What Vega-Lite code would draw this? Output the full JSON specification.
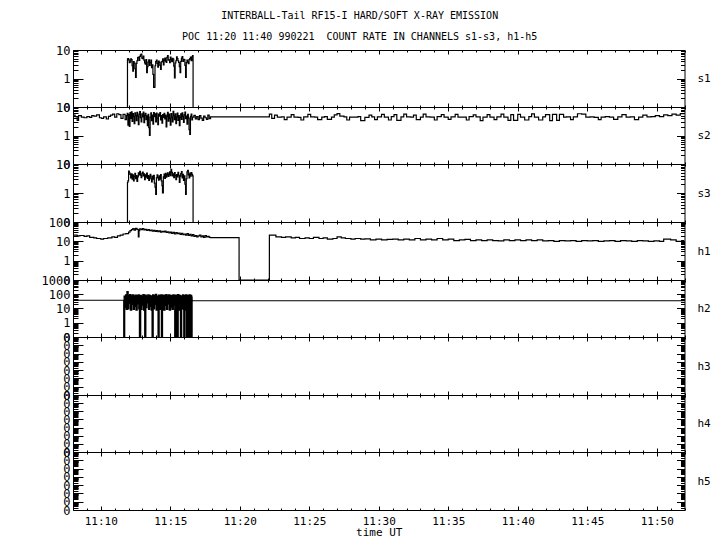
{
  "$schema": "https://vega.github.io/schema/vega-lite/v6.json",
  "background": "white",
  "padding": {"top": 10, "left": 40, "right": 5, "bottom": 5},
  "title": {
    "text": ["INTERBALL-Tail RF15-I HARD/SOFT X-RAY EMISSION", "POC 11:20 11:40 990221\u00a0 COUNT RATE IN CHANNELS s1-s3, h1-h5"],
    "font": "DejaVu Sans Mono", "fontSize": 10, "fontWeight": "normal", "lineHeight": 21,
    "anchor": "middle", "offset": 2, "dx": -16, "color": "black"
  },
  "config": {
    "view": {"stroke": "black", "strokeWidth": 1},
    "axis": {
      "domain": false, "tickColor": "black", "labelColor": "black", "titleColor": "black",
      "grid": false, "labelFont": "DejaVu Sans Mono", "titleFont": "DejaVu Sans Mono", "titleFontWeight": "normal",
      "labelOverlap": false, "labelFlush": false, "labelBound": false, "tickWidth": 1
    },
    "axisBottom": {"offset": -4, "tickSize": 4, "tickDash": {"condition": {"test": "datum.value % 5 === 0", "value": [4, 0]}, "value": [0, 2, 2, 0]}},
    "axisTop": {"offset": -4, "tickSize": 4, "tickDash": {"condition": {"test": "datum.value % 5 === 0", "value": [4, 0]}, "value": [0, 2, 2, 0]}},
    "axisLeft": {"offset": -10, "tickSize": 10, "labelPadding": 3, "labelFontSize": 12, "tickDash": {"condition": {"test": "abs(log(datum.value)/LN10 - round(log(datum.value)/LN10)) < 0.001", "value": [10, 0]}, "value": [0, 5, 5, 0]}},
    "axisRight": {"offset": -8, "tickSize": 8, "titleAngle": 0, "titleAlign": "left", "titleBaseline": "middle", "titleFontSize": 11, "titlePadding": 12, "tickDash": {"condition": {"test": "abs(log(datum.value)/LN10 - round(log(datum.value)/LN10)) < 0.001", "value": [8, 0]}, "value": [0, 4, 4, 0]}}
  },
  "bounds": "flush",
  "spacing": 0,
  "datasets": {
    "s1": [
      {"t":11.91,"v":0.1},{"t":11.92,"v":4.8},{"t":11.95,"v":5.0},{"t":12.0,"v":4.5},{"t":12.05,"v":3.6},{"t":12.1,"v":3.8},{"t":12.15,"v":4.9},{"t":12.2,"v":4.6},{"t":12.25,"v":2.8},{"t":12.3,"v":1.8},{"t":12.35,"v":3.9},{"t":12.4,"v":3.5},{"t":12.45,"v":2.2},{"t":12.5,"v":1.1},{"t":12.55,"v":3.4},{"t":12.6,"v":4.2},{"t":12.65,"v":5.4},{"t":12.7,"v":5.6},{"t":12.75,"v":4.3},{"t":12.8,"v":6.0},{"t":12.85,"v":6.8},{"t":12.9,"v":7.2},{"t":12.95,"v":5.2},{"t":13.0,"v":5.0},{"t":13.05,"v":6.1},{"t":13.1,"v":4.4},{"t":13.15,"v":3.5},{"t":13.2,"v":3.2},{"t":13.25,"v":4.6},{"t":13.3,"v":1.6},{"t":13.35,"v":2.6},{"t":13.4,"v":3.8},{"t":13.45,"v":4.5},{"t":13.5,"v":2.9},{"t":13.55,"v":3.6},{"t":13.6,"v":4.4},{"t":13.65,"v":2.4},{"t":13.7,"v":3.0},{"t":13.75,"v":1.4},{"t":13.8,"v":0.49},{"t":13.85,"v":0.5},{"t":13.9,"v":2.8},{"t":13.95,"v":3.9},{"t":14.0,"v":4.4},{"t":14.05,"v":3.4},{"t":14.1,"v":2.5},{"t":14.15,"v":4.1},{"t":14.2,"v":3.7},{"t":14.25,"v":2.9},{"t":14.3,"v":2.1},{"t":14.35,"v":3.8},{"t":14.4,"v":4.0},{"t":14.45,"v":4.9},{"t":14.5,"v":3.0},{"t":14.55,"v":4.3},{"t":14.6,"v":5.2},{"t":14.65,"v":4.1},{"t":14.7,"v":3.7},{"t":14.75,"v":5.5},{"t":14.8,"v":6.3},{"t":14.85,"v":4.4},{"t":14.9,"v":4.5},{"t":14.95,"v":3.6},{"t":15.0,"v":5.6},{"t":15.05,"v":4.8},{"t":15.1,"v":3.9},{"t":15.15,"v":5.1},{"t":15.2,"v":4.8},{"t":15.25,"v":2.7},{"t":15.3,"v":1.06},{"t":15.35,"v":3.5},{"t":15.4,"v":4.2},{"t":15.45,"v":5.7},{"t":15.5,"v":5.0},{"t":15.55,"v":4.2},{"t":15.6,"v":3.7},{"t":15.65,"v":2.6},{"t":15.7,"v":1.6},{"t":15.75,"v":4.0},{"t":15.8,"v":5.2},{"t":15.85,"v":5.9},{"t":15.9,"v":4.0},{"t":15.95,"v":4.7},{"t":16.0,"v":4.6},{"t":16.05,"v":2.9},{"t":16.1,"v":1.1},{"t":16.15,"v":3.6},{"t":16.2,"v":4.4},{"t":16.25,"v":3.8},{"t":16.3,"v":3.3},{"t":16.35,"v":4.6},{"t":16.4,"v":5.0},{"t":16.45,"v":5.6},{"t":16.5,"v":4.2},{"t":16.55,"v":5.8},{"t":16.6,"v":6.3},{"t":16.64,"v":0.1}
    ],
    "s2": [
      {"t":8.0,"v":5.2},{"t":8.15,"v":4.6},{"t":8.3,"v":3.4},{"t":8.4,"v":5.0},{"t":8.6,"v":4.4},{"t":8.8,"v":4.2},{"t":9.0,"v":4.6},{"t":9.2,"v":4.3},{"t":9.35,"v":5.0},{"t":9.5,"v":4.8},{"t":9.7,"v":5.3},{"t":9.9,"v":4.2},{"t":10.05,"v":4.0},{"t":10.2,"v":4.5},{"t":10.4,"v":3.8},{"t":10.55,"v":4.7},{"t":10.7,"v":5.2},{"t":10.85,"v":5.6},{"t":11.0,"v":4.4},{"t":11.15,"v":5.8},{"t":11.3,"v":5.4},{"t":11.45,"v":4.0},{"t":11.6,"v":5.5},{"t":11.75,"v":3.6},{"t":11.85,"v":5.0},
      {"t":11.9,"v":6.0},{"t":11.95,"v":2.3},{"t":12.0,"v":5.5},{"t":12.05,"v":2.1},{"t":12.1,"v":6.3},{"t":12.15,"v":4.0},{"t":12.2,"v":6.8},{"t":12.25,"v":3.1},{"t":12.3,"v":5.9},{"t":12.35,"v":4.6},{"t":12.4,"v":2.6},{"t":12.45,"v":6.2},{"t":12.5,"v":5.0},{"t":12.55,"v":3.3},{"t":12.6,"v":6.5},{"t":12.65,"v":4.8},{"t":12.7,"v":2.4},{"t":12.75,"v":5.6},{"t":12.8,"v":6.9},{"t":12.85,"v":4.2},{"t":12.9,"v":3.0},{"t":12.95,"v":5.8},{"t":13.0,"v":4.5},{"t":13.05,"v":6.6},{"t":13.1,"v":2.8},{"t":13.15,"v":5.1},{"t":13.2,"v":6.0},{"t":13.25,"v":3.6},{"t":13.3,"v":4.9},{"t":13.35,"v":2.2},{"t":13.4,"v":5.5},{"t":13.45,"v":1.9},{"t":13.5,"v":1.0},{"t":13.55,"v":4.4},{"t":13.6,"v":6.2},{"t":13.65,"v":3.3},{"t":13.7,"v":5.2},{"t":13.75,"v":2.5},{"t":13.8,"v":6.4},{"t":13.85,"v":4.6},{"t":13.9,"v":5.8},{"t":13.95,"v":3.0},{"t":14.0,"v":6.1},{"t":14.05,"v":4.1},{"t":14.1,"v":2.4},{"t":14.15,"v":5.6},{"t":14.2,"v":4.8},{"t":14.25,"v":6.3},{"t":14.3,"v":3.5},{"t":14.35,"v":5.0},{"t":14.4,"v":2.7},{"t":14.45,"v":5.4},{"t":14.5,"v":4.3},{"t":14.55,"v":6.0},{"t":14.6,"v":3.8},{"t":14.65,"v":5.2},{"t":14.7,"v":2.0},{"t":14.75,"v":4.7},{"t":14.8,"v":6.5},{"t":14.85,"v":3.2},{"t":14.9,"v":5.6},{"t":14.95,"v":4.0},{"t":15.0,"v":2.3},{"t":15.05,"v":5.9},{"t":15.1,"v":4.4},{"t":15.15,"v":3.0},{"t":15.2,"v":7.0},{"t":15.25,"v":4.9},{"t":15.3,"v":3.6},{"t":15.35,"v":5.7},{"t":15.4,"v":2.6},{"t":15.45,"v":4.5},{"t":15.5,"v":6.1},{"t":15.55,"v":3.4},{"t":15.6,"v":5.0},{"t":15.65,"v":2.2},{"t":15.7,"v":4.2},{"t":15.75,"v":5.8},{"t":15.8,"v":3.7},{"t":15.85,"v":6.2},{"t":15.9,"v":4.6},{"t":15.95,"v":2.9},{"t":16.0,"v":5.3},{"t":16.05,"v":6.6},{"t":16.1,"v":3.9},{"t":16.15,"v":4.8},{"t":16.2,"v":2.5},{"t":16.25,"v":5.5},{"t":16.3,"v":4.1},{"t":16.35,"v":1.6},{"t":16.4,"v":1.1},{"t":16.45,"v":4.7},{"t":16.5,"v":5.6},{"t":16.55,"v":3.5},{"t":16.6,"v":4.4},{"t":16.7,"v":5.1},{"t":16.8,"v":3.8},{"t":16.9,"v":4.6},{"t":17.0,"v":3.6},{"t":17.1,"v":5.0},{"t":17.2,"v":4.1},{"t":17.3,"v":3.4},{"t":17.4,"v":4.8},{"t":17.5,"v":4.2},{"t":17.6,"v":3.7},{"t":17.7,"v":5.2},{"t":17.8,"v":3.9},{"t":17.9,"v":4.5},{"t":17.98,"v":4.5},
      {"t":22.13,"v":5.6},{"t":22.3,"v":4.0},{"t":22.5,"v":5.2},{"t":22.7,"v":4.4},{"t":23.0,"v":4.5},{"t":23.2,"v":3.6},{"t":23.4,"v":4.4},{"t":23.7,"v":5.4},{"t":23.9,"v":4.4},{"t":24.2,"v":4.3},{"t":24.4,"v":3.5},{"t":24.6,"v":4.5},{"t":24.9,"v":5.5},{"t":25.1,"v":4.5},{"t":25.4,"v":4.4},{"t":25.6,"v":3.6},{"t":25.9,"v":4.4},{"t":26.1,"v":4.6},{"t":26.3,"v":3.7},{"t":26.6,"v":4.4},{"t":26.8,"v":5.3},{"t":27.0,"v":5.9},{"t":27.2,"v":4.8},{"t":27.5,"v":4.5},{"t":27.7,"v":3.5},{"t":27.9,"v":4.4},{"t":28.2,"v":4.4},{"t":28.5,"v":4.6},{"t":28.7,"v":3.3},{"t":29.0,"v":4.3},{"t":29.3,"v":5.2},{"t":29.5,"v":4.5},{"t":29.7,"v":3.6},{"t":29.9,"v":4.5},{"t":30.2,"v":5.5},{"t":30.4,"v":4.4},{"t":30.7,"v":3.5},{"t":30.9,"v":4.6},{"t":31.1,"v":5.4},{"t":31.3,"v":3.4},{"t":31.6,"v":4.5},{"t":31.8,"v":5.6},{"t":32.0,"v":4.5},{"t":32.3,"v":4.4},{"t":32.5,"v":5.2},{"t":32.7,"v":3.6},{"t":33.0,"v":4.4},{"t":33.2,"v":5.6},{"t":33.4,"v":4.5},{"t":33.7,"v":4.4},{"t":34.0,"v":3.5},{"t":34.2,"v":4.6},{"t":34.5,"v":5.4},{"t":34.7,"v":4.4},{"t":35.0,"v":3.7},{"t":35.2,"v":4.5},{"t":35.5,"v":5.5},{"t":35.7,"v":4.4},{"t":36.0,"v":4.4},{"t":36.3,"v":3.5},{"t":36.5,"v":4.6},{"t":36.8,"v":5.3},{"t":37.0,"v":4.5},{"t":37.3,"v":3.3},{"t":37.5,"v":4.4},{"t":37.8,"v":5.4},{"t":38.0,"v":4.4},{"t":38.3,"v":3.6},{"t":38.5,"v":4.5},{"t":38.8,"v":5.6},{"t":39.0,"v":4.4},{"t":39.3,"v":3.4},{"t":39.5,"v":5.4},{"t":39.7,"v":3.4},{"t":40.0,"v":5.5},{"t":40.2,"v":4.4},{"t":40.5,"v":3.5},{"t":40.8,"v":4.6},{"t":41.0,"v":5.7},{"t":41.2,"v":4.4},{"t":41.5,"v":3.5},{"t":41.8,"v":4.5},{"t":42.0,"v":5.4},{"t":42.3,"v":3.3},{"t":42.5,"v":5.5},{"t":42.8,"v":3.4},{"t":43.0,"v":5.5},{"t":43.3,"v":4.4},{"t":43.5,"v":4.5},{"t":43.8,"v":3.6},{"t":44.0,"v":4.5},{"t":44.3,"v":5.8},{"t":44.6,"v":5.6},{"t":44.9,"v":4.4},{"t":45.2,"v":4.5},{"t":45.5,"v":4.3},{"t":45.8,"v":3.6},{"t":46.0,"v":4.4},{"t":46.3,"v":4.6},{"t":46.6,"v":4.4},{"t":46.9,"v":3.7},{"t":47.2,"v":4.5},{"t":47.5,"v":5.4},{"t":47.8,"v":4.4},{"t":48.1,"v":4.5},{"t":48.4,"v":3.6},{"t":48.7,"v":4.4},{"t":49.0,"v":5.2},{"t":49.3,"v":4.5},{"t":49.6,"v":4.6},{"t":49.9,"v":5.0},{"t":50.2,"v":4.6},{"t":50.5,"v":5.3},{"t":50.8,"v":5.0},{"t":51.1,"v":5.6},{"t":51.4,"v":5.2},{"t":51.7,"v":5.9},{"t":52.0,"v":5.9}
    ],
    "s3": [
      {"t":11.91,"v":0.1},{"t":11.92,"v":2.3},{"t":11.95,"v":2.6},{"t":12.0,"v":5.7},{"t":12.05,"v":5.0},{"t":12.1,"v":4.4},{"t":12.15,"v":3.3},{"t":12.2,"v":4.6},{"t":12.25,"v":3.0},{"t":12.3,"v":4.2},{"t":12.35,"v":2.6},{"t":12.4,"v":3.7},{"t":12.45,"v":4.8},{"t":12.5,"v":3.1},{"t":12.55,"v":4.0},{"t":12.6,"v":2.5},{"t":12.65,"v":3.6},{"t":12.7,"v":5.0},{"t":12.75,"v":4.2},{"t":12.8,"v":5.6},{"t":12.85,"v":4.1},{"t":12.9,"v":3.4},{"t":12.95,"v":4.8},{"t":13.0,"v":5.3},{"t":13.05,"v":3.9},{"t":13.1,"v":4.6},{"t":13.15,"v":2.9},{"t":13.2,"v":4.2},{"t":13.25,"v":3.5},{"t":13.3,"v":4.9},{"t":13.35,"v":3.2},{"t":13.4,"v":4.0},{"t":13.45,"v":2.7},{"t":13.5,"v":3.6},{"t":13.55,"v":4.4},{"t":13.6,"v":3.1},{"t":13.65,"v":2.4},{"t":13.7,"v":3.8},{"t":13.75,"v":3.0},{"t":13.8,"v":4.1},{"t":13.85,"v":2.2},{"t":13.9,"v":1.6},{"t":13.95,"v":0.9},{"t":14.0,"v":3.3},{"t":14.05,"v":4.2},{"t":14.1,"v":3.4},{"t":14.15,"v":2.8},{"t":14.2,"v":3.9},{"t":14.25,"v":3.0},{"t":14.3,"v":4.3},{"t":14.35,"v":2.6},{"t":14.4,"v":1.8},{"t":14.44,"v":1.0},{"t":14.5,"v":3.6},{"t":14.55,"v":4.5},{"t":14.6,"v":3.2},{"t":14.65,"v":4.8},{"t":14.7,"v":3.5},{"t":14.75,"v":4.2},{"t":14.8,"v":5.0},{"t":14.85,"v":3.7},{"t":14.9,"v":4.4},{"t":14.95,"v":5.4},{"t":15.0,"v":4.0},{"t":15.05,"v":6.6},{"t":15.1,"v":5.2},{"t":15.15,"v":3.9},{"t":15.2,"v":4.6},{"t":15.25,"v":3.4},{"t":15.3,"v":5.1},{"t":15.35,"v":4.0},{"t":15.4,"v":2.9},{"t":15.45,"v":4.3},{"t":15.5,"v":3.6},{"t":15.55,"v":5.2},{"t":15.6,"v":4.1},{"t":15.65,"v":2.3},{"t":15.7,"v":3.8},{"t":15.75,"v":4.7},{"t":15.8,"v":5.5},{"t":15.85,"v":3.3},{"t":15.9,"v":4.4},{"t":15.95,"v":2.7},{"t":16.0,"v":3.9},{"t":16.05,"v":2.0},{"t":16.1,"v":0.9},{"t":16.15,"v":3.1},{"t":16.2,"v":5.4},{"t":16.25,"v":6.0},{"t":16.3,"v":4.2},{"t":16.35,"v":3.3},{"t":16.4,"v":4.9},{"t":16.45,"v":3.8},{"t":16.5,"v":5.1},{"t":16.55,"v":4.4},{"t":16.6,"v":3.9},{"t":16.64,"v":0.1}
    ],
    "h1": [
      {"t":8.0,"v":21},{"t":8.3,"v":19},{"t":8.5,"v":20},{"t":8.8,"v":18},{"t":9.0,"v":19},{"t":9.2,"v":16},{"t":9.5,"v":15},{"t":9.7,"v":14},{"t":10.0,"v":13},{"t":10.2,"v":14},{"t":10.5,"v":15},{"t":10.8,"v":17},{"t":11.0,"v":16},{"t":11.2,"v":19},{"t":11.4,"v":21},{"t":11.6,"v":24},{"t":11.8,"v":25},{"t":12.0,"v":30},{"t":12.1,"v":36},{"t":12.2,"v":40},{"t":12.3,"v":45},{"t":12.4,"v":38},{"t":12.5,"v":47},{"t":12.6,"v":42},{"t":12.7,"v":17},{"t":12.75,"v":36},{"t":12.8,"v":44},{"t":12.9,"v":40},{"t":13.0,"v":46},{"t":13.1,"v":39},{"t":13.2,"v":42},{"t":13.3,"v":37},{"t":13.4,"v":41},{"t":13.5,"v":36},{"t":13.6,"v":38},{"t":13.7,"v":34},{"t":13.8,"v":37},{"t":13.9,"v":33},{"t":14.0,"v":36},{"t":14.1,"v":32},{"t":14.2,"v":35},{"t":14.3,"v":30},{"t":14.4,"v":33},{"t":14.5,"v":31},{"t":14.6,"v":34},{"t":14.7,"v":29},{"t":14.8,"v":31},{"t":14.9,"v":27},{"t":15.0,"v":30},{"t":15.1,"v":26},{"t":15.2,"v":29},{"t":15.3,"v":24},{"t":15.4,"v":28},{"t":15.5,"v":25},{"t":15.6,"v":27},{"t":15.7,"v":23},{"t":15.8,"v":26},{"t":15.9,"v":22},{"t":16.0,"v":24},{"t":16.1,"v":21},{"t":16.2,"v":25},{"t":16.3,"v":20},{"t":16.4,"v":23},{"t":16.5,"v":19},{"t":16.6,"v":22},{"t":16.7,"v":18},{"t":16.8,"v":20},{"t":16.9,"v":17},{"t":17.0,"v":19},{"t":17.1,"v":21},{"t":17.2,"v":17},{"t":17.3,"v":19},{"t":17.4,"v":16},{"t":17.5,"v":20},{"t":17.6,"v":17},{"t":17.7,"v":18},{"t":17.8,"v":16},{"t":17.9,"v":15.5},{"t":19.95,"v":0.1},
      {"t":22.13,"v":21},{"t":22.6,"v":17},{"t":23.0,"v":16},{"t":23.3,"v":17},{"t":23.7,"v":15},{"t":24.0,"v":16},{"t":24.3,"v":14},{"t":24.7,"v":15},{"t":25.0,"v":14},{"t":25.3,"v":16},{"t":25.7,"v":14},{"t":26.0,"v":15},{"t":26.3,"v":13},{"t":26.7,"v":14},{"t":27.0,"v":17},{"t":27.3,"v":15},{"t":27.6,"v":14},{"t":28.0,"v":13},{"t":28.3,"v":14},{"t":28.7,"v":13},{"t":29.0,"v":13.5},{"t":29.4,"v":12},{"t":29.8,"v":13},{"t":30.2,"v":12},{"t":30.6,"v":12.5},{"t":31.0,"v":13},{"t":31.4,"v":12},{"t":31.8,"v":13},{"t":32.2,"v":12},{"t":32.6,"v":14},{"t":33.0,"v":12},{"t":33.4,"v":13},{"t":33.8,"v":12},{"t":34.2,"v":14},{"t":34.6,"v":12},{"t":35.0,"v":13},{"t":35.4,"v":11},{"t":35.8,"v":12},{"t":36.2,"v":12.5},{"t":36.6,"v":11},{"t":37.0,"v":12},{"t":37.4,"v":11},{"t":37.8,"v":12},{"t":38.2,"v":11},{"t":38.6,"v":10.5},{"t":39.0,"v":12},{"t":39.4,"v":11},{"t":39.8,"v":12},{"t":40.2,"v":11},{"t":40.6,"v":12},{"t":41.0,"v":11},{"t":41.4,"v":12},{"t":41.8,"v":10.5},{"t":42.2,"v":11},{"t":42.6,"v":10},{"t":43.0,"v":11},{"t":43.4,"v":10.5},{"t":43.8,"v":11},{"t":44.2,"v":10},{"t":44.6,"v":11},{"t":45.0,"v":10.5},{"t":45.4,"v":11},{"t":45.8,"v":10},{"t":46.2,"v":10.5},{"t":46.6,"v":11},{"t":47.0,"v":10},{"t":47.4,"v":11},{"t":47.8,"v":10.5},{"t":48.2,"v":10},{"t":48.6,"v":11},{"t":49.0,"v":10.5},{"t":49.4,"v":10},{"t":49.8,"v":10.5},{"t":50.2,"v":10},{"t":50.5,"v":13},{"t":51.0,"v":12},{"t":51.4,"v":10},{"t":51.8,"v":11},{"t":52.0,"v":11}
    ],
    "h2base": [
      {"t":8.0,"v":38},{"t":11.66,"v":38},{"t":16.55,"v":35},{"t":52.0,"v":35}
    ],
    "h2": [
      {"t":11.66,"v":38},{"t":11.67,"v":0.1},{"t":11.7,"v":70},{"t":11.75,"v":12},{"t":11.8,"v":85},{"t":11.85,"v":9},{"t":11.9,"v":145},{"t":11.95,"v":10},{"t":12.0,"v":80},{"t":12.05,"v":25},{"t":12.1,"v":90},{"t":12.15,"v":8},{"t":12.2,"v":75},{"t":12.25,"v":20},{"t":12.3,"v":88},{"t":12.35,"v":9},{"t":12.4,"v":70},{"t":12.45,"v":15},{"t":12.5,"v":82},{"t":12.55,"v":8},{"t":12.6,"v":78},{"t":12.65,"v":22},{"t":12.7,"v":86},{"t":12.75,"v":10},{"t":12.8,"v":0.1},{"t":12.85,"v":80},{"t":12.9,"v":9},{"t":12.95,"v":72},{"t":13.0,"v":18},{"t":13.05,"v":90},{"t":13.1,"v":8},{"t":13.15,"v":76},{"t":13.18,"v":0.1},{"t":13.22,"v":84},{"t":13.25,"v":12},{"t":13.3,"v":70},{"t":13.35,"v":26},{"t":13.4,"v":88},{"t":13.45,"v":9},{"t":13.5,"v":80},{"t":13.55,"v":15},{"t":13.6,"v":74},{"t":13.65,"v":8},{"t":13.71,"v":0.1},{"t":13.75,"v":86},{"t":13.8,"v":10},{"t":13.85,"v":78},{"t":13.9,"v":20},{"t":13.95,"v":92},{"t":14.0,"v":8},{"t":14.05,"v":70},{"t":14.1,"v":14},{"t":14.14,"v":0.1},{"t":14.18,"v":84},{"t":14.22,"v":9},{"t":14.26,"v":76},{"t":14.3,"v":24},{"t":14.34,"v":88},{"t":14.38,"v":0.1},{"t":14.42,"v":72},{"t":14.46,"v":11},{"t":14.5,"v":82},{"t":14.55,"v":8},{"t":14.6,"v":79},{"t":14.65,"v":17},{"t":14.7,"v":90},{"t":14.75,"v":9},{"t":14.8,"v":74},{"t":14.85,"v":22},{"t":14.9,"v":86},{"t":14.95,"v":8},{"t":15.0,"v":80},{"t":15.05,"v":13},{"t":15.1,"v":77},{"t":15.15,"v":9},{"t":15.2,"v":88},{"t":15.25,"v":19},{"t":15.3,"v":72},{"t":15.34,"v":0.1},{"t":15.38,"v":84},{"t":15.42,"v":10},{"t":15.46,"v":76},{"t":15.51,"v":0.1},{"t":15.55,"v":90},{"t":15.6,"v":8},{"t":15.65,"v":80},{"t":15.7,"v":16},{"t":15.75,"v":0.1},{"t":15.8,"v":74},{"t":15.85,"v":11},{"t":15.9,"v":86},{"t":15.95,"v":9},{"t":15.99,"v":0.1},{"t":16.03,"v":78},{"t":16.07,"v":21},{"t":16.11,"v":88},{"t":16.14,"v":8},{"t":16.18,"v":0.1},{"t":16.22,"v":82},{"t":16.26,"v":12},{"t":16.3,"v":72},{"t":16.35,"v":0.1},{"t":16.39,"v":86},{"t":16.43,"v":9},{"t":16.47,"v":80},{"t":16.52,"v":0.1},{"t":16.55,"v":70}
    ],
    "empty": []
  },
  "vconcat": [
    {
      "width": 611.5, "height": 57, "data": {"name": "s1"},
      "layer": [
        {"mark": {"type": "line", "interpolate": "step-after", "color": "black", "strokeWidth": 1.2, "clip": true},
         "encoding": {
           "x": {"field": "t", "type": "quantitative", "scale": {"domain": [8, 52], "nice": false, "zero": false},
                 "axis": {"orient": "bottom", "values": [8,9,10,11,12,13,14,15,16,17,18,19,20,21,22,23,24,25,26,27,28,29,30,31,32,33,34,35,36,37,38,39,40,41,42,43,44,45,46,47,48,49,50,51,52], "labels": false, "title": null}},
           "y": {"field": "v", "type": "quantitative", "scale": {"type": "log", "domain": [0.1, 10], "nice": false},
                 "axis": {"orient": "left", "values": [0.1,0.2,0.3,0.4,0.5,0.6,0.7,0.8,0.9,1,2,3,4,5,6,7,8,9,10], "labelExpr": "abs(log(datum.value)/LN10 - round(log(datum.value)/LN10)) < 0.001 ? (datum.value < 1 ? '0' : format(datum.value, 'd')) : ''", "title": null}}
         }},
        {"mark": {"type": "line", "opacity": 0},
         "encoding": {
           "x": {"field": "t", "type": "quantitative", "scale": {"domain": [8, 52], "nice": false, "zero": false},
                 "axis": {"orient": "top", "values": [8,9,10,11,12,13,14,15,16,17,18,19,20,21,22,23,24,25,26,27,28,29,30,31,32,33,34,35,36,37,38,39,40,41,42,43,44,45,46,47,48,49,50,51,52], "labels": false, "title": null}},
           "y": {"field": "v", "type": "quantitative", "scale": {"type": "log", "domain": [0.1, 10], "nice": false},
                 "axis": {"orient": "right", "values": [0.1,0.2,0.3,0.4,0.5,0.6,0.7,0.8,0.9,1,2,3,4,5,6,7,8,9,10], "labels": false, "title": "s1"}}
         }}
      ],
      "resolve": {"scale": {"x": "independent", "y": "independent"}, "axis": {"x": "independent", "y": "independent"}}
    },
    {
      "width": 611.5, "height": 57, "data": {"name": "s2"},
      "layer": [
        {"mark": {"type": "line", "interpolate": "step-after", "color": "black", "strokeWidth": 1.2, "clip": true},
         "encoding": {
           "x": {"field": "t", "type": "quantitative", "scale": {"domain": [8, 52], "nice": false, "zero": false},
                 "axis": {"orient": "bottom", "values": [8,9,10,11,12,13,14,15,16,17,18,19,20,21,22,23,24,25,26,27,28,29,30,31,32,33,34,35,36,37,38,39,40,41,42,43,44,45,46,47,48,49,50,51,52], "labels": false, "title": null}},
           "y": {"field": "v", "type": "quantitative", "scale": {"type": "log", "domain": [0.1, 10], "nice": false},
                 "axis": {"orient": "left", "values": [0.1,0.2,0.3,0.4,0.5,0.6,0.7,0.8,0.9,1,2,3,4,5,6,7,8,9,10], "labelExpr": "abs(log(datum.value)/LN10 - round(log(datum.value)/LN10)) < 0.001 ? (datum.value < 1 ? '0' : format(datum.value, 'd')) : ''", "title": null}}
         }},
        {"mark": {"type": "line", "opacity": 0},
         "encoding": {
           "x": {"field": "t", "type": "quantitative", "scale": {"domain": [8, 52], "nice": false, "zero": false},
                 "axis": {"orient": "top", "values": [8,9,10,11,12,13,14,15,16,17,18,19,20,21,22,23,24,25,26,27,28,29,30,31,32,33,34,35,36,37,38,39,40,41,42,43,44,45,46,47,48,49,50,51,52], "labels": false, "title": null}},
           "y": {"field": "v", "type": "quantitative", "scale": {"type": "log", "domain": [0.1, 10], "nice": false},
                 "axis": {"orient": "right", "values": [0.1,0.2,0.3,0.4,0.5,0.6,0.7,0.8,0.9,1,2,3,4,5,6,7,8,9,10], "labels": false, "title": "s2"}}
         }}
      ],
      "resolve": {"scale": {"x": "independent", "y": "independent"}, "axis": {"x": "independent", "y": "independent"}}
    },
    {
      "width": 611.5, "height": 58, "data": {"name": "s3"},
      "layer": [
        {"mark": {"type": "line", "interpolate": "step-after", "color": "black", "strokeWidth": 1.2, "clip": true},
         "encoding": {
           "x": {"field": "t", "type": "quantitative", "scale": {"domain": [8, 52], "nice": false, "zero": false},
                 "axis": {"orient": "bottom", "values": [8,9,10,11,12,13,14,15,16,17,18,19,20,21,22,23,24,25,26,27,28,29,30,31,32,33,34,35,36,37,38,39,40,41,42,43,44,45,46,47,48,49,50,51,52], "labels": false, "title": null}},
           "y": {"field": "v", "type": "quantitative", "scale": {"type": "log", "domain": [0.1, 10], "nice": false},
                 "axis": {"orient": "left", "values": [0.1,0.2,0.3,0.4,0.5,0.6,0.7,0.8,0.9,1,2,3,4,5,6,7,8,9,10], "labelExpr": "abs(log(datum.value)/LN10 - round(log(datum.value)/LN10)) < 0.001 ? (datum.value < 1 ? '0' : format(datum.value, 'd')) : ''", "title": null}}
         }},
        {"mark": {"type": "line", "opacity": 0},
         "encoding": {
           "x": {"field": "t", "type": "quantitative", "scale": {"domain": [8, 52], "nice": false, "zero": false},
                 "axis": {"orient": "top", "values": [8,9,10,11,12,13,14,15,16,17,18,19,20,21,22,23,24,25,26,27,28,29,30,31,32,33,34,35,36,37,38,39,40,41,42,43,44,45,46,47,48,49,50,51,52], "labels": false, "title": null}},
           "y": {"field": "v", "type": "quantitative", "scale": {"type": "log", "domain": [0.1, 10], "nice": false},
                 "axis": {"orient": "right", "values": [0.1,0.2,0.3,0.4,0.5,0.6,0.7,0.8,0.9,1,2,3,4,5,6,7,8,9,10], "labels": false, "title": "s3"}}
         }}
      ],
      "resolve": {"scale": {"x": "independent", "y": "independent"}, "axis": {"x": "independent", "y": "independent"}}
    },
    {
      "width": 611.5, "height": 58, "data": {"name": "h1"},
      "layer": [
        {"mark": {"type": "line", "interpolate": "step-after", "color": "black", "strokeWidth": 1.2, "clip": true},
         "encoding": {
           "x": {"field": "t", "type": "quantitative", "scale": {"domain": [8, 52], "nice": false, "zero": false},
                 "axis": {"orient": "bottom", "values": [8,9,10,11,12,13,14,15,16,17,18,19,20,21,22,23,24,25,26,27,28,29,30,31,32,33,34,35,36,37,38,39,40,41,42,43,44,45,46,47,48,49,50,51,52], "labels": false, "title": null}},
           "y": {"field": "v", "type": "quantitative", "scale": {"type": "log", "domain": [0.1, 100], "nice": false},
                 "axis": {"orient": "left", "values": [0.1,0.2,0.3,0.4,0.5,0.6,0.7,0.8,0.9,1,2,3,4,5,6,7,8,9,10,20,30,40,50,60,70,80,90,100], "labelExpr": "abs(log(datum.value)/LN10 - round(log(datum.value)/LN10)) < 0.001 ? (datum.value < 1 ? '0' : format(datum.value, 'd')) : ''", "title": null}}
         }},
        {"mark": {"type": "line", "opacity": 0},
         "encoding": {
           "x": {"field": "t", "type": "quantitative", "scale": {"domain": [8, 52], "nice": false, "zero": false},
                 "axis": {"orient": "top", "values": [8,9,10,11,12,13,14,15,16,17,18,19,20,21,22,23,24,25,26,27,28,29,30,31,32,33,34,35,36,37,38,39,40,41,42,43,44,45,46,47,48,49,50,51,52], "labels": false, "title": null}},
           "y": {"field": "v", "type": "quantitative", "scale": {"type": "log", "domain": [0.1, 100], "nice": false},
                 "axis": {"orient": "right", "values": [0.1,0.2,0.3,0.4,0.5,0.6,0.7,0.8,0.9,1,2,3,4,5,6,7,8,9,10,20,30,40,50,60,70,80,90,100], "labels": false, "title": "h1"}}
         }}
      ],
      "resolve": {"scale": {"x": "independent", "y": "independent"}, "axis": {"x": "independent", "y": "independent"}}
    },
    {
      "width": 611.5, "height": 57,
      "layer": [
        {"data": {"name": "h2base"},
         "mark": {"type": "line", "interpolate": "step-after", "color": "black", "strokeWidth": 1.2, "clip": true},
         "encoding": {
           "x": {"field": "t", "type": "quantitative", "scale": {"domain": [8, 52], "nice": false, "zero": false},
                 "axis": {"orient": "bottom", "values": [8,9,10,11,12,13,14,15,16,17,18,19,20,21,22,23,24,25,26,27,28,29,30,31,32,33,34,35,36,37,38,39,40,41,42,43,44,45,46,47,48,49,50,51,52], "labels": false, "title": null}},
           "y": {"field": "v", "type": "quantitative", "scale": {"type": "log", "domain": [0.1, 1000], "nice": false},
                 "axis": {"orient": "left", "values": [0.1,0.2,0.3,0.4,0.5,0.6,0.7,0.8,0.9,1,2,3,4,5,6,7,8,9,10,20,30,40,50,60,70,80,90,100,200,300,400,500,600,700,800,900,1000], "labelExpr": "abs(log(datum.value)/LN10 - round(log(datum.value)/LN10)) < 0.001 ? (datum.value < 1 ? '0' : format(datum.value, 'd')) : ''", "title": null}}
         }},
        {"data": {"name": "h2"},
         "mark": {"type": "line", "interpolate": "step-after", "color": "black", "strokeWidth": 1.8, "clip": true},
         "encoding": {
           "x": {"field": "t", "type": "quantitative", "scale": {"domain": [8, 52], "nice": false, "zero": false},
                 "axis": {"orient": "top", "values": [8,9,10,11,12,13,14,15,16,17,18,19,20,21,22,23,24,25,26,27,28,29,30,31,32,33,34,35,36,37,38,39,40,41,42,43,44,45,46,47,48,49,50,51,52], "labels": false, "title": null}},
           "y": {"field": "v", "type": "quantitative", "scale": {"type": "log", "domain": [0.1, 1000], "nice": false},
                 "axis": {"orient": "right", "values": [0.1,0.2,0.3,0.4,0.5,0.6,0.7,0.8,0.9,1,2,3,4,5,6,7,8,9,10,20,30,40,50,60,70,80,90,100,200,300,400,500,600,700,800,900,1000], "labels": false, "title": "h2"}}
         }}
      ],
      "resolve": {"scale": {"x": "independent", "y": "independent"}, "axis": {"x": "independent", "y": "independent"}}
    },
    {
      "width": 611.5, "height": 58, "data": {"name": "empty"},
      "layer": [
        {"mark": {"type": "line", "interpolate": "step-after", "color": "black", "strokeWidth": 1, "clip": true},
         "encoding": {
           "x": {"field": "t", "type": "quantitative", "scale": {"domain": [8, 52], "nice": false, "zero": false},
                 "axis": {"orient": "bottom", "values": [8,9,10,11,12,13,14,15,16,17,18,19,20,21,22,23,24,25,26,27,28,29,30,31,32,33,34,35,36,37,38,39,40,41,42,43,44,45,46,47,48,49,50,51,52], "labels": false, "title": null}},
           "y": {"field": "v", "type": "quantitative", "scale": {"type": "log", "domain": [1e-8, 0.1], "nice": false},
                 "axis": {"orient": "left", "values": [1e-8,2e-8,3e-8,4e-8,5e-8,6e-8,7e-8,8e-8,9e-8,1e-7,2e-7,3e-7,4e-7,5e-7,6e-7,7e-7,8e-7,9e-7,1e-6,2e-6,3e-6,4e-6,5e-6,6e-6,7e-6,8e-6,9e-6,1e-5,2e-5,3e-5,4e-5,5e-5,6e-5,7e-5,8e-5,9e-5,0.0001,0.0002,0.0003,0.0004,0.0005,0.0006,0.0007,0.0008,0.0009,0.001,0.002,0.003,0.004,0.005,0.006,0.007,0.008,0.009,0.01,0.02,0.03,0.04,0.05,0.06,0.07,0.08,0.09,0.1], "labelExpr": "abs(log(datum.value)/LN10 - round(log(datum.value)/LN10)) < 0.001 ? '0' : ''", "title": null}}
         }},
        {"mark": {"type": "line", "opacity": 0},
         "encoding": {
           "x": {"field": "t", "type": "quantitative", "scale": {"domain": [8, 52], "nice": false, "zero": false},
                 "axis": {"orient": "top", "values": [8,9,10,11,12,13,14,15,16,17,18,19,20,21,22,23,24,25,26,27,28,29,30,31,32,33,34,35,36,37,38,39,40,41,42,43,44,45,46,47,48,49,50,51,52], "labels": false, "title": null}},
           "y": {"field": "v", "type": "quantitative", "scale": {"type": "log", "domain": [1e-8, 0.1], "nice": false},
                 "axis": {"orient": "right", "values": [1e-8,2e-8,3e-8,4e-8,5e-8,6e-8,7e-8,8e-8,9e-8,1e-7,2e-7,3e-7,4e-7,5e-7,6e-7,7e-7,8e-7,9e-7,1e-6,2e-6,3e-6,4e-6,5e-6,6e-6,7e-6,8e-6,9e-6,1e-5,2e-5,3e-5,4e-5,5e-5,6e-5,7e-5,8e-5,9e-5,0.0001,0.0002,0.0003,0.0004,0.0005,0.0006,0.0007,0.0008,0.0009,0.001,0.002,0.003,0.004,0.005,0.006,0.007,0.008,0.009,0.01,0.02,0.03,0.04,0.05,0.06,0.07,0.08,0.09,0.1], "labels": false, "title": "h3"}}
         }}
      ],
      "resolve": {"scale": {"x": "independent", "y": "independent"}, "axis": {"x": "independent", "y": "independent"}}
    },
    {
      "width": 611.5, "height": 57, "data": {"name": "empty"},
      "layer": [
        {"mark": {"type": "line", "interpolate": "step-after", "color": "black", "strokeWidth": 1, "clip": true},
         "encoding": {
           "x": {"field": "t", "type": "quantitative", "scale": {"domain": [8, 52], "nice": false, "zero": false},
                 "axis": {"orient": "bottom", "values": [8,9,10,11,12,13,14,15,16,17,18,19,20,21,22,23,24,25,26,27,28,29,30,31,32,33,34,35,36,37,38,39,40,41,42,43,44,45,46,47,48,49,50,51,52], "labels": false, "title": null}},
           "y": {"field": "v", "type": "quantitative", "scale": {"type": "log", "domain": [1e-8, 0.1], "nice": false},
                 "axis": {"orient": "left", "values": [1e-8,2e-8,3e-8,4e-8,5e-8,6e-8,7e-8,8e-8,9e-8,1e-7,2e-7,3e-7,4e-7,5e-7,6e-7,7e-7,8e-7,9e-7,1e-6,2e-6,3e-6,4e-6,5e-6,6e-6,7e-6,8e-6,9e-6,1e-5,2e-5,3e-5,4e-5,5e-5,6e-5,7e-5,8e-5,9e-5,0.0001,0.0002,0.0003,0.0004,0.0005,0.0006,0.0007,0.0008,0.0009,0.001,0.002,0.003,0.004,0.005,0.006,0.007,0.008,0.009,0.01,0.02,0.03,0.04,0.05,0.06,0.07,0.08,0.09,0.1], "labelExpr": "abs(log(datum.value)/LN10 - round(log(datum.value)/LN10)) < 0.001 ? '0' : ''", "title": null}}
         }},
        {"mark": {"type": "line", "opacity": 0},
         "encoding": {
           "x": {"field": "t", "type": "quantitative", "scale": {"domain": [8, 52], "nice": false, "zero": false},
                 "axis": {"orient": "top", "values": [8,9,10,11,12,13,14,15,16,17,18,19,20,21,22,23,24,25,26,27,28,29,30,31,32,33,34,35,36,37,38,39,40,41,42,43,44,45,46,47,48,49,50,51,52], "labels": false, "title": null}},
           "y": {"field": "v", "type": "quantitative", "scale": {"type": "log", "domain": [1e-8, 0.1], "nice": false},
                 "axis": {"orient": "right", "values": [1e-8,2e-8,3e-8,4e-8,5e-8,6e-8,7e-8,8e-8,9e-8,1e-7,2e-7,3e-7,4e-7,5e-7,6e-7,7e-7,8e-7,9e-7,1e-6,2e-6,3e-6,4e-6,5e-6,6e-6,7e-6,8e-6,9e-6,1e-5,2e-5,3e-5,4e-5,5e-5,6e-5,7e-5,8e-5,9e-5,0.0001,0.0002,0.0003,0.0004,0.0005,0.0006,0.0007,0.0008,0.0009,0.001,0.002,0.003,0.004,0.005,0.006,0.007,0.008,0.009,0.01,0.02,0.03,0.04,0.05,0.06,0.07,0.08,0.09,0.1], "labels": false, "title": "h4"}}
         }}
      ],
      "resolve": {"scale": {"x": "independent", "y": "independent"}, "axis": {"x": "independent", "y": "independent"}}
    },
    {
      "width": 611.5, "height": 58, "data": {"name": "empty"},
      "layer": [
        {"mark": {"type": "line", "interpolate": "step-after", "color": "black", "strokeWidth": 1, "clip": true},
         "encoding": {
           "x": {"field": "t", "type": "quantitative", "scale": {"domain": [8, 52], "nice": false, "zero": false},
                 "axis": {"orient": "bottom", "values": [8,9,10,11,12,13,14,15,16,17,18,19,20,21,22,23,24,25,26,27,28,29,30,31,32,33,34,35,36,37,38,39,40,41,42,43,44,45,46,47,48,49,50,51,52], "labelExpr": "datum.value % 5 === 0 ? '11:' + datum.value : ''", "labelFontSize": 11, "labelPadding": 5, "title": "time UT", "titleFontSize": 11, "titlePadding": 0}},
           "y": {"field": "v", "type": "quantitative", "scale": {"type": "log", "domain": [1e-8, 0.1], "nice": false},
                 "axis": {"orient": "left", "values": [1e-8,2e-8,3e-8,4e-8,5e-8,6e-8,7e-8,8e-8,9e-8,1e-7,2e-7,3e-7,4e-7,5e-7,6e-7,7e-7,8e-7,9e-7,1e-6,2e-6,3e-6,4e-6,5e-6,6e-6,7e-6,8e-6,9e-6,1e-5,2e-5,3e-5,4e-5,5e-5,6e-5,7e-5,8e-5,9e-5,0.0001,0.0002,0.0003,0.0004,0.0005,0.0006,0.0007,0.0008,0.0009,0.001,0.002,0.003,0.004,0.005,0.006,0.007,0.008,0.009,0.01,0.02,0.03,0.04,0.05,0.06,0.07,0.08,0.09,0.1], "labelExpr": "abs(log(datum.value)/LN10 - round(log(datum.value)/LN10)) < 0.001 ? '0' : ''", "title": null}}
         }},
        {"mark": {"type": "line", "opacity": 0},
         "encoding": {
           "x": {"field": "t", "type": "quantitative", "scale": {"domain": [8, 52], "nice": false, "zero": false},
                 "axis": {"orient": "top", "values": [8,9,10,11,12,13,14,15,16,17,18,19,20,21,22,23,24,25,26,27,28,29,30,31,32,33,34,35,36,37,38,39,40,41,42,43,44,45,46,47,48,49,50,51,52], "labels": false, "title": null}},
           "y": {"field": "v", "type": "quantitative", "scale": {"type": "log", "domain": [1e-8, 0.1], "nice": false},
                 "axis": {"orient": "right", "values": [1e-8,2e-8,3e-8,4e-8,5e-8,6e-8,7e-8,8e-8,9e-8,1e-7,2e-7,3e-7,4e-7,5e-7,6e-7,7e-7,8e-7,9e-7,1e-6,2e-6,3e-6,4e-6,5e-6,6e-6,7e-6,8e-6,9e-6,1e-5,2e-5,3e-5,4e-5,5e-5,6e-5,7e-5,8e-5,9e-5,0.0001,0.0002,0.0003,0.0004,0.0005,0.0006,0.0007,0.0008,0.0009,0.001,0.002,0.003,0.004,0.005,0.006,0.007,0.008,0.009,0.01,0.02,0.03,0.04,0.05,0.06,0.07,0.08,0.09,0.1], "labels": false, "title": "h5"}}
         }}
      ],
      "resolve": {"scale": {"x": "independent", "y": "independent"}, "axis": {"x": "independent", "y": "independent"}}
    }
  ]
}
